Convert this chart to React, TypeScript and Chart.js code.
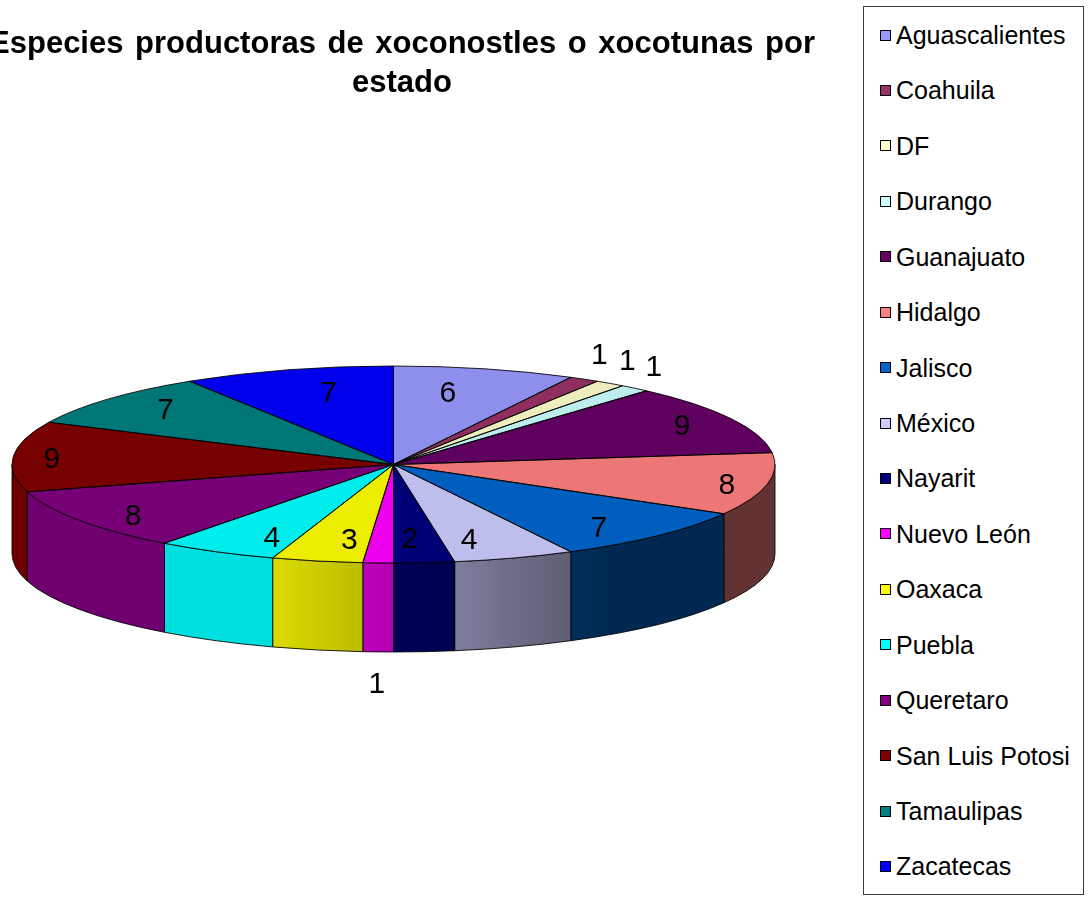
import React, { useEffect, useRef } from "react";
import { Chart, registerables } from "chart.js";

Chart.register(...registerables);

// ---- data ----
const states = [
  "Aguascalientes",
  "Coahuila",
  "DF",
  "Durango",
  "Guanajuato",
  "Hidalgo",
  "Jalisco",
  "México",
  "Nayarit",
  "Nuevo León",
  "Oaxaca",
  "Puebla",
  "Queretaro",
  "San Luis Potosi",
  "Tamaulipas",
  "Zacatecas",
];
const species = [6, 1, 1, 1, 9, 8, 7, 4, 2, 1, 3, 4, 8, 9, 7, 7];
const titleLines = ["Especies productoras de xoconostles o xocotunas por", "estado"];

// ---- styles ----
const palette = [
  "#9999FF",
  "#993366",
  "#FFFFCC",
  "#CCFFFF",
  "#660066",
  "#FF8080",
  "#0066CC",
  "#CCCCFF",
  "#000080",
  "#FF00FF",
  "#FFFF00",
  "#00FFFF",
  "#800080",
  "#800000",
  "#008080",
  "#0000FF",
];
const FONT = "'Liberation Sans', Arial, sans-serif";
const TILT = 98.5 / 381.5;
const DEPTH = 89;

function hexToRgb(h: string) {
  const n = parseInt(h.slice(1), 16);
  return [(n >> 16) & 255, (n >> 8) & 255, n & 255];
}
function scaleColor(h: string, f: number) {
  const [r, g, b] = hexToRgb(h);
  return `rgb(${Math.round(r * f)},${Math.round(g * f)},${Math.round(b * f)})`;
}
function wallFactor(thetaDeg: number) {
  return Math.min(0.875, Math.max(0.39, 0.39 + ((thetaDeg - 145) * 0.485) / 55));
}

const pie3d = {
  id: "pie3d",
  beforeDatasetsDraw(chart: any) {
    const meta = chart.getDatasetMeta(0);
    const arcs = meta.data;
    if (!arcs.length) return;
    const { x: cx, y: cy, outerRadius: rx } = arcs[0].getProps(["x", "y", "outerRadius"], true);
    const ry = rx * TILT;
    const ctx: CanvasRenderingContext2D = chart.ctx;
    arcs.forEach((arc: any, i: number) => {
      const { startAngle, endAngle } = arc.getProps(["startAngle", "endAngle"], true);
      const a1 = Math.max(startAngle, 0);
      const a2 = Math.min(endAngle, Math.PI);
      if (a2 <= a1) return;
      const x1 = cx + rx * Math.cos(a1);
      const x2 = cx + rx * Math.cos(a2);
      const base = palette[i % palette.length];
      let fill: any;
      if (Math.abs(x1 - x2) < 1) {
        fill = scaleColor(base, wallFactor(((a1 + a2) / 2 + Math.PI / 2) * 180 / Math.PI));
      } else {
        const g = ctx.createLinearGradient(x1, 0, x2, 0);
        const n = 8;
        for (let k = 0; k <= n; k++) {
          const a = a1 + ((a2 - a1) * k) / n;
          const x = cx + rx * Math.cos(a);
          const off = Math.min(1, Math.max(0, (x - x1) / (x2 - x1)));
          g.addColorStop(off, scaleColor(base, wallFactor((a + Math.PI / 2) * 180 / Math.PI)));
        }
        fill = g;
      }
      ctx.save();
      ctx.beginPath();
      ctx.ellipse(cx, cy, rx, ry, 0, a1, a2, false);
      ctx.ellipse(cx, cy + DEPTH, rx, ry, 0, a2, a1, true);
      ctx.closePath();
      ctx.fillStyle = fill;
      ctx.fill();
      ctx.lineWidth = 1;
      ctx.strokeStyle = "rgba(0,0,0,0.85)";
      ctx.stroke();
      ctx.restore();
    });
    ctx.save();
    ctx.translate(cx, cy);
    ctx.scale(1, TILT);
    ctx.translate(-cx, -cy);
  },
  afterDatasetsDraw(chart: any) {
    const ctx: CanvasRenderingContext2D = chart.ctx;
    ctx.restore();
    const meta = chart.getDatasetMeta(0);
    const arcs = meta.data;
    if (!arcs.length) return;
    const { x: cx, y: cy, outerRadius: rx } = arcs[0].getProps(["x", "y", "outerRadius"], true);
    const ry = rx * TILT;
    const values: number[] = chart.data.datasets[0].data;
    const total = values.reduce((s, v) => s + v, 0);
    // outlines of top face
    ctx.save();
    ctx.lineWidth = 1;
    ctx.strokeStyle = "rgba(0,0,0,0.85)";
    arcs.forEach((arc: any) => {
      const { startAngle, endAngle } = arc.getProps(["startAngle", "endAngle"], true);
      ctx.beginPath();
      ctx.moveTo(cx, cy);
      ctx.lineTo(cx + rx * Math.cos(startAngle), cy + ry * Math.sin(startAngle));
      ctx.ellipse(cx, cy, rx, ry, 0, startAngle, endAngle, false);
      ctx.closePath();
      ctx.stroke();
    });
    ctx.restore();
    // labels
    ctx.save();
    ctx.font = `30px ${FONT}`;
    ctx.fillStyle = "#000";
    ctx.textAlign = "center";
    ctx.textBaseline = "middle";
    arcs.forEach((arc: any, i: number) => {
      const { startAngle, endAngle } = arc.getProps(["startAngle", "endAngle"], true);
      const mid = (startAngle + endAngle) / 2;
      const c = Math.cos(mid);
      const s = Math.sin(mid);
      let x: number, y: number;
      if (values[i] / total < 0.02) {
        x = cx + rx * c + 30 * c;
        y = cy + ry * s + 30 * s + (s > 0 ? DEPTH : 0);
      } else {
        const fx = 0.5 + 0.4 * Math.abs(c);
        const fy = 0.72 + 0.2 * Math.abs(c);
        x = cx + fx * rx * c;
        y = cy + fy * ry * s;
      }
      ctx.fillText(String(values[i]), x, y + 3);
    });
    ctx.restore();
  },
};

export default function App() {
  const canvasRef = useRef<HTMLCanvasElement | null>(null);

  useEffect(() => {
    const canvas = canvasRef.current;
    if (!canvas) return;
    const chart = new Chart(canvas, {
      type: "pie",
      data: {
        labels: states,
        datasets: [
          {
            data: species,
            backgroundColor: palette.map((c) => scaleColor(c, 0.93)),
            borderWidth: 0,
          },
        ],
      },
      options: {
        animation: false,
        responsive: true,
        maintainAspectRatio: false,
        events: [],
        layout: { padding: { left: 12, right: 313, top: 83, bottom: 53 } },
        plugins: {
          legend: { display: false },
          title: { display: false },
          tooltip: { enabled: false },
        },
      },
      plugins: [pie3d],
    });
    return () => chart.destroy();
  }, []);

  return (
    <div style={{ position: "absolute", left: 0, top: 0, width: 1088, height: 899, overflow: "hidden", background: "#fff" }}>
      <canvas ref={canvasRef} style={{ position: "absolute", left: 0, top: 0 }} />
      <div
        style={{
          position: "absolute",
          left: 402 - 600,
          top: 23,
          width: 1200,
          textAlign: "center",
          font: `bold 31px ${FONT}`,
          lineHeight: "39.4px",
          wordSpacing: "3px",
          whiteSpace: "nowrap",
          color: "#000",
        }}
      >
        {titleLines.map((t, i) => (
          <div key={i}>{t}</div>
        ))}
      </div>
      <div
        style={{
          position: "absolute",
          left: 863,
          top: 6,
          width: 221,
          height: 889,
          boxSizing: "border-box",
          border: "1.5px solid #3c3c3c",
          background: "#fff",
        }}
      >
        {states.map((s, i) => (
          <div
            key={s}
            style={{
              position: "absolute",
              left: 16,
              top: 35.5 + i * 55.43 - 7.5 - 14,
              height: 28,
              display: "flex",
              alignItems: "center",
              font: `25px ${FONT}`,
              lineHeight: "28px",
              whiteSpace: "nowrap",
              color: "#000",
            }}
          >
            <span
              style={{
                display: "inline-block",
                width: 9,
                height: 9,
                border: "1.7px solid #000",
                background: palette[i],
                marginRight: 5,
              }}
            />
            {s}
          </div>
        ))}
      </div>
    </div>
  );
}
